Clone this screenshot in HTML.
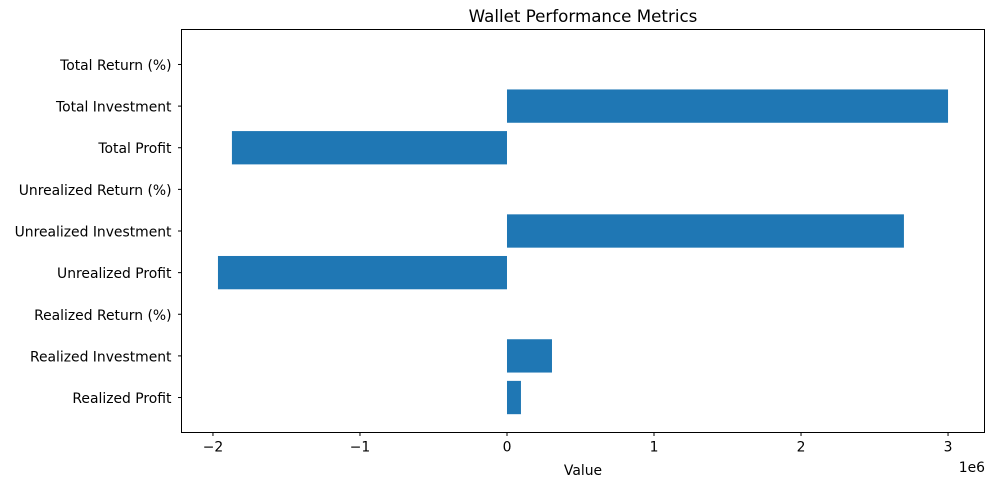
<!DOCTYPE html>
<html><head><meta charset="utf-8"><style>
body{margin:0;background:#fff;}
svg text{font-family:"DejaVu Sans","Liberation Sans",sans-serif;fill:#000;}
</style></head><body>
<svg id="chart" width="1000" height="480" xmlns="http://www.w3.org/2000/svg">
<text x="583" y="22" font-size="16.7" text-anchor="middle">Wallet Performance Metrics</text>
<g id="bars"></g>
<rect x="181.5" y="29.5" width="803" height="403" fill="none" stroke="#000" stroke-width="1"/>
<g id="axes"></g>
<text x="583" y="475" font-size="13.9" text-anchor="middle">Value</text>
<text x="985" y="472" font-size="13.9" text-anchor="end">1e6</text>
</svg>
<script>
const categories = ["Realized Profit","Realized Investment","Realized Return (%)","Unrealized Profit","Unrealized Investment","Unrealized Return (%)","Total Profit","Total Investment","Total Return (%)"];
const values = [95000, 306000, 0, -1966000, 2700000, 0, -1871000, 3000000, 0];
const xTicks = [-2, -1, 0, 1, 2, 3];
const xTickLabels = ["\u22122","\u22121","0","1","2","3"];

const L=181.5,R=984.5,T=29.5,B=432.5;
const xmin=-2.214e6,xmax=3.248e6,ymin=-0.84,ymax=8.84;
const xs=v=>L+(v-xmin)/(xmax-xmin)*(R-L);
const ys=i=>B-(i-ymin)/(ymax-ymin)*(B-T);
const NS="http://www.w3.org/2000/svg";
const bars=document.getElementById('bars'),axes=document.getElementById('axes');
const bw=0.8*(B-T)/(ymax-ymin);
values.forEach((v,i)=>{
  const r=document.createElementNS(NS,'rect');
  
  
  const x0=xs(Math.min(0,v)),x1=xs(Math.max(0,v));
  r.setAttribute('x',x0);r.setAttribute('width',x1-x0);
  r.setAttribute('y',ys(i)-bw/2);r.setAttribute('height',bw);
  r.setAttribute('fill','#1f77b4');
  bars.appendChild(r);
  const t=document.createElementNS(NS,'line');
  
  
  t.setAttribute('x1',L-3.5);t.setAttribute('x2',L);t.setAttribute('y1',ys(i));t.setAttribute('y2',ys(i));t.setAttribute('stroke','#000');
  axes.appendChild(t);
  const l=document.createElementNS(NS,'text');
  
  
  l.setAttribute('x',L-10);l.setAttribute('y',ys(i)+5.5);l.setAttribute('font-size','13.9');l.setAttribute('text-anchor','end');
  l.textContent=categories[i];
  axes.appendChild(l);
});
xTicks.forEach((v,i)=>{
  const x=xs(v*1e6);
  const t=document.createElementNS(NS,'line');
  
  
  t.setAttribute('x1',x);t.setAttribute('x2',x);t.setAttribute('y1',B);t.setAttribute('y2',B+3.5);t.setAttribute('stroke','#000');
  axes.appendChild(t);
  const l=document.createElementNS(NS,'text');
  
  
  l.setAttribute('x',x);l.setAttribute('y',B+19);l.setAttribute('font-size','13.9');l.setAttribute('text-anchor','middle');
  l.textContent=xTickLabels[i];
  axes.appendChild(l);
});
</script>
</body></html>
